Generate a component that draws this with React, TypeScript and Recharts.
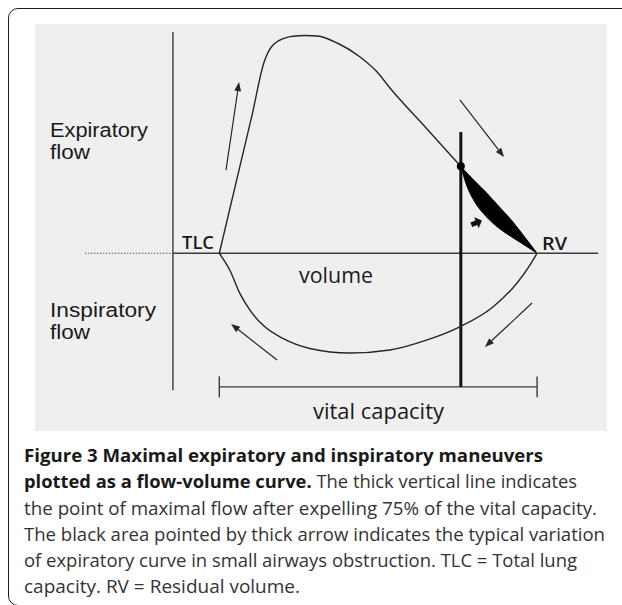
import { Area, ComposedChart, Line, ReferenceDot, ReferenceLine, XAxis, YAxis } from 'recharts'

// volume in % of vital capacity (TLC = 0, RV = 100), flow in arbitrary units
const expVolume = [0, 10.3, 14.1, 16.9, 21.6, 23.2, 27, 30.8, 37.1, 44.3, 49.6, 53.7, 65, 76]
const expFlow = [0, 6.33, 8.76, 9.54, 9.9, 9.94, 9.97, 9.95, 9.63, 8.99, 8.31, 7.57, 5.75, 3.98]

const inspVolume = [0, 3.4, 6.5, 9.7, 13.8, 20, 28.5, 41.1, 53.7, 65.4, 75.7, 86.1, 93.7, 97.8, 100]
const inspFlow = [0, -0.8, -1.85, -2.62, -3.3, -3.9, -4.36, -4.57, -4.43, -3.97, -3.37, -2.46, -1.36, -0.53, 0]

// last quarter of expiration: normal curve vs small airways obstruction
const tailVolume = [76, 78, 80, 84, 88, 92, 96, 100]
const normalFlow = [3.98, 3.66, 3.36, 2.78, 2.14, 1.5, 0.76, 0]
const obstructedFlow = [3.98, 3.05, 2.45, 1.68, 1.15, 0.75, 0.38, 0]

// direction arrows [volume, flow]
const arrowStart = [[2.1, 3.81], [75.7, 7.02], [98.4, -2.28], [18.2, -4.89]]
const arrowEnd = [[6.2, 7.84], [89.6, 4.41], [83.6, -4.29], [3.7, -3.24]]

const TLC = 0
const RV = 100
const V75 = 76
const FLOW75 = 3.98

const expData = expVolume.map((v, i) => ({ v, flow: expFlow[i] }))
const inspData = inspVolume.map((v, i) => ({ v, flow: inspFlow[i] }))
const tailData = tailVolume.map((v, i) => ({ v, range: [obstructedFlow[i], normalFlow[i]] }))

const INK = '#262626'
const FONT = '"Open Sans", "DejaVu Sans", sans-serif'

function ArrowShape(props: any) {
  const { x1, y1, x2, y2 } = props
  const a = Math.atan2(y2 - y1, x2 - x1)
  const len = 9
  const hw = 3.4
  const bx = x2 - len * Math.cos(a)
  const by = y2 - len * Math.sin(a)
  const px = -Math.sin(a) * hw
  const py = Math.cos(a) * hw
  return (
    <g>
      <line x1={x1} y1={y1} x2={bx} y2={by} stroke={INK} strokeWidth={1.2} />
      <polygon points={`${x2},${y2} ${bx + px},${by + py} ${bx - px},${by - py}`} fill={INK} />
    </g>
  )
}

function ThickArrow(props: any) {
  const { cx, cy } = props
  return (
    <polygon
      transform={`translate(${cx},${cy}) rotate(-22)`}
      points="-5.5,-2.4 0,-2.4 0,-6 6,0 0,6 0,2.4 -5.5,2.4"
      fill="#111"
    />
  )
}

function Txt({ x, y, w, size, children, weight }: any) {
  return (
    <text x={x} y={y} fontSize={size} fontWeight={weight} textLength={w} lengthAdjust="spacingAndGlyphs" fill="#1a1a1a">
      {children}
    </text>
  )
}

// axis captions: two stacked lines, tighter metrics so the lines don't collide
function TwoLines({ x, y, first, second, w1, w2 }: any) {
  return (
    <g fontFamily='"Liberation Sans", Arial, sans-serif' fontSize={19.5} fill="#1a1a1a">
      <text x={x} y={y} textLength={w1} lengthAdjust="spacingAndGlyphs">{first}</text>
      <text x={x} y={y + 22} textLength={w2} lengthAdjust="spacingAndGlyphs">{second}</text>
    </g>
  )
}

export default function App() {
  return (
    <div style={{ position: 'relative', width: 622, height: 605, overflow: 'hidden', background: '#fff', fontFamily: FONT }}>
      <style>{'body{margin:0}'}</style>
      <div style={{ position: 'absolute', left: 8, top: 8, width: 650, height: 598, border: '1.8px solid #1e1e1e', borderRadius: 10, boxSizing: 'border-box' }} />
      <div style={{ position: 'absolute', left: 35, top: 24, width: 572, height: 407, background: '#efefef' }}>
        <ComposedChart width={572} height={407} margin={{ top: 0, right: 0, bottom: 0, left: 0 }}>
          <XAxis type="number" dataKey="v" domain={[-58, 122]} hide allowDataOverflow />
          <YAxis type="number" domain={[-8.14, 10.5]} hide allowDataOverflow />
          {/* axes */}
          <ReferenceLine segment={[{ x: -42.3, y: 0 }, { x: -14.6, y: 0 }]} stroke="#555" strokeWidth={1.2} strokeDasharray="1.5 1.5" ifOverflow="visible" />
          <ReferenceLine segment={[{ x: -14.6, y: 0 }, { x: 119.2, y: 0 }]} stroke="#3a3a3a" strokeWidth={1.4} ifOverflow="visible" />
          <ReferenceLine segment={[{ x: -14.6, y: 10.13 }, { x: -14.6, y: -6.27 }]} stroke="#3a3a3a" strokeWidth={1.4} ifOverflow="visible" />
          {/* vital capacity bracket */}
          <ReferenceLine segment={[{ x: TLC, y: -6.12 }, { x: RV, y: -6.12 }]} stroke="#3a3a3a" strokeWidth={1.4} ifOverflow="visible" />
          <ReferenceLine segment={[{ x: TLC, y: -5.64 }, { x: TLC, y: -6.6 }]} stroke="#3a3a3a" strokeWidth={1.4} ifOverflow="visible" />
          <ReferenceLine segment={[{ x: RV, y: -5.64 }, { x: RV, y: -6.6 }]} stroke="#3a3a3a" strokeWidth={1.4} ifOverflow="visible" />
          {/* 75% of vital capacity */}
          <ReferenceLine segment={[{ x: V75, y: 5.55 }, { x: V75, y: -6.12 }]} stroke="#111" strokeWidth={3} ifOverflow="visible" />
          <Area data={tailData} dataKey="range" type="monotoneX" stroke="#000" strokeWidth={1} fill="#000" fillOpacity={1} dot={false} activeDot={false} isAnimationActive={false} />
          <Line data={expData} dataKey="flow" type="monotoneX" stroke={INK} strokeWidth={1.4} dot={false} activeDot={false} isAnimationActive={false} />
          <Line data={inspData} dataKey="flow" type="monotoneX" stroke={INK} strokeWidth={1.4} dot={false} activeDot={false} isAnimationActive={false} />
          {arrowStart.map((s, i) => (
            <ReferenceLine key={i} segment={[{ x: s[0], y: s[1] }, { x: arrowEnd[i][0], y: arrowEnd[i][1] }]} shape={ArrowShape} ifOverflow="visible" />
          ))}
          <ReferenceDot x={V75} y={FLOW75} r={4} fill="#000" stroke="none" />
          <ReferenceDot x={80.9} y={1.4} shape={ThickArrow} />
        </ComposedChart>
      </div>
      <svg width={622} height={605} style={{ position: 'absolute', left: 0, top: 0, pointerEvents: 'none', fontFamily: FONT }}>
        <TwoLines x={50} y={137} first="Expiratory" second="flow" w1={98} w2={40} />
        <TwoLines x={50} y={317} first="Inspiratory" second="flow" w1={106} w2={40} />
        <Txt x={182} y={249} w={32} size={18} weight={600}>TLC</Txt>
        <Txt x={542} y={250} w={25} size={18} weight={600}>RV</Txt>
        <Txt x={299} y={283} w={74} size={21}>volume</Txt>
        <Txt x={313} y={419} w={131} size={21}>vital capacity</Txt>
        <g fontSize={18.5}>
          <text x={24} y={462} textLength={519} lengthAdjust="spacingAndGlyphs" fontWeight="bold" fill="#1a1a1a">
            Figure 3 Maximal expiratory and inspiratory maneuvers
          </text>
          <text x={24} y={488} textLength={553} lengthAdjust="spacingAndGlyphs" fill="#333">
            <tspan fontWeight="bold" fill="#1a1a1a">plotted as a flow-volume curve.</tspan> The thick vertical line indicates
          </text>
          <text x={24} y={515} textLength={573} lengthAdjust="spacingAndGlyphs" fill="#333">
            the point of maximal flow after expelling 75% of the vital capacity.
          </text>
          <text x={24} y={541} textLength={581} lengthAdjust="spacingAndGlyphs" fill="#333">
            The black area pointed by thick arrow indicates the typical variation
          </text>
          <text x={24} y={567} textLength={553} lengthAdjust="spacingAndGlyphs" fill="#333">
            of expiratory curve in small airways obstruction. TLC = Total lung
          </text>
          <text x={24} y={593} textLength={276} lengthAdjust="spacingAndGlyphs" fill="#333">
            capacity. RV = Residual volume.
          </text>
        </g>
      </svg>
    </div>
  )
}
